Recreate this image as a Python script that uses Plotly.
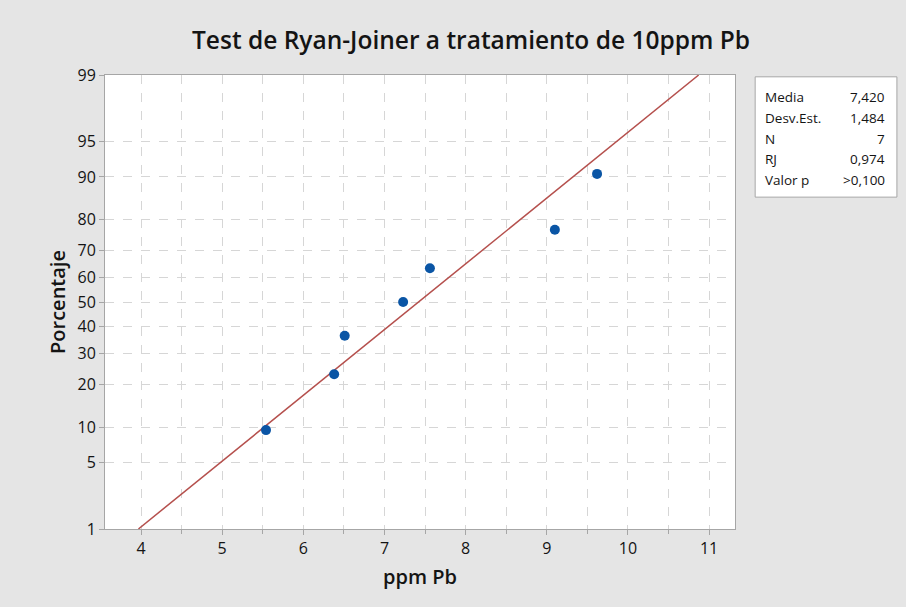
import plotly.graph_objects as go
from statistics import NormalDist

# ---- data ----
ppm_pb = [5.54, 6.38, 6.51, 7.23, 7.56, 9.10, 9.62]
percent = [9.46, 22.97, 36.49, 50.0, 63.51, 77.03, 90.54]
mean_val = 7.420
sd_val = 1.484
line_percent = [1, 99]
y_tick_pct = [1, 5, 10, 20, 30, 40, 50, 60, 70, 80, 90, 95, 99]
y_tick_text = ["1", "5", "10", "20", "30", "40", "50", "60", "70", "80", "90", "95", "99"]
x_ticks = [4, 5, 6, 7, 8, 9, 10, 11]
stat_labels = ["Media", "Desv.Est.", "N", "RJ", "Valor p"]
stat_values = ["7,420", "1,484", "7", "0,974", ">0,100"]

nd = NormalDist()
def z(p):
    return nd.inv_cdf(p / 100.0)

pts_y = [z(p) for p in percent]
line_y = [z(p) for p in line_percent]
line_x = [mean_val + sd_val * z(p) for p in line_percent]

FONT = "Open Sans"
TXT = "#141414"
fig = go.Figure()
fig.add_trace(go.Scatter(x=line_x, y=line_y, mode="lines",
                         line=dict(color="#b5504d", width=1.5),
                         hoverinfo="skip", showlegend=False))
fig.add_trace(go.Scatter(x=ppm_pb, y=pts_y, mode="markers",
                         marker=dict(color="#0a55a5", size=10),
                         showlegend=False))

grid_c = "#d6d6d6"
axis_c = "#a6a6a6"
fig.update_xaxes(range=[3.556, 11.32], tickvals=x_ticks,
                 showgrid=True, gridcolor=grid_c, griddash="dash", gridwidth=1,
                 showline=True, mirror=True, linecolor=axis_c, linewidth=1,
                 ticks="outside", ticklen=5, tickcolor=axis_c,
                 minor=dict(dtick=0.5, tick0=4, showgrid=True, gridcolor=grid_c,
                            griddash="dash", ticks="outside", ticklen=4, tickcolor=axis_c),
                 zeroline=False,
                 tickfont=dict(family=FONT, size=16, color=TXT),
                 title=dict(text="ppm Pb", font=dict(family=FONT, size=20, color=TXT, weight=600), standoff=11))
fig.update_yaxes(range=[z(1), z(99)], tickvals=[z(p) for p in y_tick_pct], ticktext=y_tick_text,
                 showgrid=True, gridcolor=grid_c, griddash="dash", gridwidth=1,
                 showline=True, mirror=True, linecolor=axis_c, linewidth=1,
                 ticks="outside", ticklen=5, tickcolor=axis_c, zeroline=False,
                 tickfont=dict(family=FONT, size=16, color=TXT),
                 title=dict(text="Porcentaje", font=dict(family=FONT, size=20, color=TXT, weight=600), standoff=6))

# stats box
fig.add_shape(type="rect", xref="paper", yref="paper", x0=1.032, x1=1.257, y0=0.731, y1=0.996,
              line=dict(color="#a6a6a6", width=1), fillcolor="white", layer="above")
row_y0 = 0.951
row_dy = 20.7 / 454
for i, (lab, val) in enumerate(zip(stat_labels, stat_values)):
    yy = row_y0 - i * row_dy
    fig.add_annotation(xref="paper", yref="paper", x=1.044, y=yy, text=lab, showarrow=False,
                       xanchor="left", yanchor="middle", font=dict(family=FONT, size=13.5, color=TXT))
    fig.add_annotation(xref="paper", yref="paper", x=1.241, y=yy, text=val, showarrow=False,
                       xanchor="right", yanchor="middle", font=dict(family=FONT, size=13.5, color=TXT))

fig.update_layout(
    width=906, height=607,
    margin=dict(l=105, r=171, t=75, b=78),
    paper_bgcolor="#e5e5e5", plot_bgcolor="white",
    title=dict(text="Test de Ryan-Joiner a tratamiento de 10ppm Pb", x=471 / 906, xanchor="center",
               y=1 - 40 / 607, yanchor="middle", font=dict(family=FONT, size=24.5, color=TXT, weight=600)),
)
fig.write_html("out.html")
